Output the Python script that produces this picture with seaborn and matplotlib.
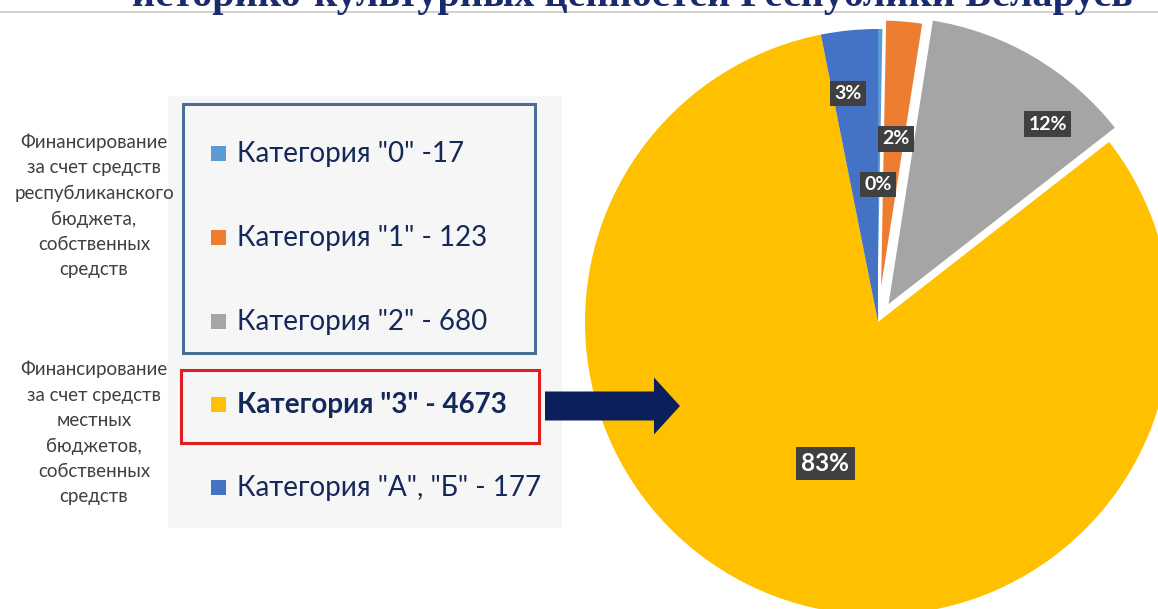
import seaborn as sns
import matplotlib.pyplot as plt
import matplotlib.patches as mpatches
import numpy as np

# Данные
categories = ['Категория "0" -17', 'Категория "1" - 123', 'Категория "2" - 680',
              'Категория "3" - 4673', 'Категория "А", "Б" - 177']
values = [17, 123, 680, 4673, 177]
pct_labels = ['0%', '2%', '12%', '83%', '3%']
colors = ['#5b9bd5', '#ed7d31', '#a5a5a5', '#ffc000', '#4472c4']
title = 'историко-культурных ценностей Республики Беларусь'
note_top = 'Финансирование\nза счет средств\nреспубликанского\nбюджета,\nсобственных\nсредств'
note_bottom = 'Финансирование\nза счет средств\nместных\nбюджетов,\nсобственных\nсредств'

sns.set_theme(style="white")
plt.rcParams['font.family'] = ['Lato', 'DejaVu Sans']

W, H = 1158, 609
fig = plt.figure(figsize=(W / 100, H / 100), dpi=100)
fig.patch.set_facecolor('white')

# фон, заголовок (в пикселях); заголовок обрезан сверху, как на слайде
bg = fig.add_axes([0, 0, 1, 1], zorder=0)
bg.set_xlim(0, W)
bg.set_ylim(H, 0)
bg.axis('off')
bg.add_patch(mpatches.Rectangle((168, 96), 394, 432, facecolor='#f6f6f6', edgecolor='none'))
bg.plot([0, W], [11.5, 11.5], color='#c8c8c8', lw=1.2)
bg.text(632, 6, title, ha='center', va='baseline', fontsize=29, fontweight='bold',
        family='Liberation Serif', color='#1a2a6c')

# круговая диаграмма
cx, cy, r = 878, 322, 293
pie_ax = fig.add_axes([(cx - r) / W, (H - cy - r) / H, 2 * r / W, 2 * r / H], zorder=1)
explode = [0.0, 0.035, 0.055, 0.0, 0.0]
wedges, _ = pie_ax.pie(values, colors=colors, startangle=90, counterclock=False,
                       explode=explode, radius=1,
                       wedgeprops=dict(edgecolor='white', linewidth=0))
for w, e in zip(wedges, explode):
    w.set_clip_on(False)
    if e > 0:
        w.set_edgecolor('white')
        w.set_linewidth(2.5)
pie_ax.set_xlim(-1, 1)
pie_ax.set_ylim(-1, 1)
pie_ax.set_aspect('auto')
pie_ax.axis('off')

# подписи процентов
label_r = [0.47, 0.593, 0.836, 0.515, 0.786]
label_frac = [1.0, 0.42, 0.25, 0.5, 0.66]
for w, e, lab, lr, lf in zip(wedges, explode, pct_labels, label_r, label_frac):
    ang = np.deg2rad(w.theta1 + (w.theta2 - w.theta1) * lf)
    mid = np.deg2rad((w.theta1 + w.theta2) / 2)
    x = lr * np.cos(ang) + e * np.cos(mid)
    y = lr * np.sin(ang) + e * np.sin(mid)
    fs = 17.5 if lab == '83%' else 14
    pie_ax.text(x, y, lab, ha='center', va='center', color='white', fontsize=fs,
                fontweight='bold', zorder=5,
                bbox=dict(boxstyle='square,pad=0.22', facecolor='#404040', edgecolor='none'))

# легенда, рамки, стрелка
fg = fig.add_axes([0, 0, 1, 1], zorder=2)
fg.set_xlim(0, W)
fg.set_ylim(H, 0)
fg.axis('off')
fg.patch.set_alpha(0)
fg.add_patch(mpatches.Rectangle((183, 104), 352, 249, facecolor='none', edgecolor='#4a6f96', lw=2.2))
fg.add_patch(mpatches.Rectangle((181, 370), 358, 73, facecolor='none', edgecolor='#e01e1e', lw=2.2))
fg.add_patch(mpatches.FancyArrow(545, 406, 135, 0, width=29, head_width=57, head_length=26,
                                 length_includes_head=True, facecolor='#0b1f5c', edgecolor='none'))

rows = [153, 237, 321, 404, 487]
for cat, col, yy in zip(categories, colors, rows):
    fg.add_patch(mpatches.Rectangle((211, yy - 7), 15, 15, facecolor=col, edgecolor='none'))
    bold = '"3"' in cat
    fg.text(237, yy + 1, cat, ha='left', va='center', fontsize=20,
            fontweight='bold' if bold else 'normal', color='#14285a')

fg.text(94, 206, note_top, ha='center', va='center', fontsize=13.5, color='#404040', linespacing=1.6)
fg.text(94, 433, note_bottom, ha='center', va='center', fontsize=13.5, color='#404040', linespacing=1.6)

fig.savefig('out.png', dpi=100)
